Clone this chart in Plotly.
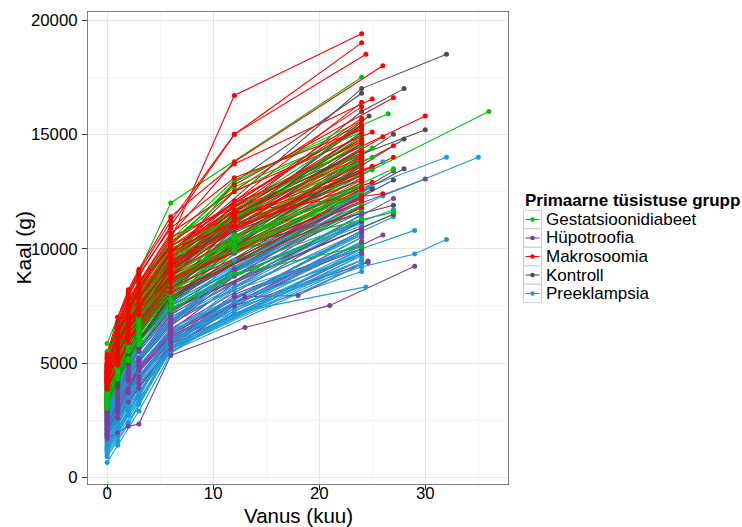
import plotly.graph_objects as go

# ---------------- data (weights in grams; None = visit missed) ----------------
STD_AGES = [0, 1, 2, 3, 6, 12]   # last visit age varies per child

GROUPS = ["Gestatsioonidiabeet", "Hüpotroofia", "Makrosoomia", "Kontroll", "Preeklampsia"]
COLORS = ["#00C400", "#7B3F9E", "#FF0000", "#4D4D4D", "#1C9BD6"]

GD_W = [
    [5850, 7000, None, 9000, 12000, None, 17500],
    [5500, 6600, 7700, 8500, 10400, 13000, 15900],
    [4200, None, 6500, 7300, 9200, None, 13450],
    [5000, 6200, None, 8100, 10200, 12500, 15200],
    [4800, 6000, 7100, None, 9800, None, 14800],
    [4600, None, 6900, 7700, 9600, None, 15000],
    [4400, 5600, None, 7500, 9400, 11900, 14500],
    [4100, 5300, 6400, None, 9100, None, 14100],
    [3900, None, 6200, 7000, 8900, 11300, 13700],
    [3700, 4900, None, 6800, 8700, None, 13400],
    [3500, 4700, 5800, None, 8500, None, 13000],
    [3300, None, 5600, 6400, 8300, 10500, 12700],
    [3600, 4800, None, 6700, 8600, None, 12900],
    [4000, 5200, 6300, None, 8900, 11100, 13200],
    [4300, None, 6600, 7400, 9300, None, 14300],
    [3800, 5000, None, 6900, 8800, None, 13900],
    [3400, 4500, 5500, 6300, 8000, 10200, 12200],
    [3100, None, 5200, 6000, 7700, None, 11700],
    [4500, 5800, None, 7800, 9900, None, 15300],
    [4700, 6000, 7200, None, 10100, 12900, 15600],
    [3900, None, 6000, 6800, 8500, None, 12500],
    [3550, 4650, None, 6500, 8200, None, 11900],
    [4150, 5350, 6450, None, 9200, 11700, 14000],
    [3750, None, 5950, 6750, 8600, None, 12600],
    [3250, 4300, None, 6100, 7800, 9900, 11600],
    [4650, 5900, 7050, None, 9700, None, 14600],
    [3950, None, 6250, 7050, 8900, None, 13600],
    [3450, 4550, None, 6400, 8100, 10100, 12000],
    [4350, 5650, 6800, None, 9500, None, 14700],
    [3850, None, 6100, 6900, 8700, None, 13300],
    [3650, 4750, None, 6600, 8400, 10600, 12400],
    [4250, 5500, 6600, None, 9300, None, 13800],
    [3000, None, 5100, 5900, 7500, None, 11300],
    [5200, 6500, None, 8400, 10300, 12700, 15100],
    [4050, 5250, 6350, None, 9000, None, 13500],
    [3200, None, 5100, 5800, 7300, 8900, 10100],
    [3350, 4400, None, 6200, 8200, None, 12800],
    [4450, 5700, 6900, None, 9700, None, 14900],
    [3700, None, 5700, 6500, 8300, 10400, 12300],
    [4900, 6100, None, 8000, 10000, None, 14400],
]
GD_LAST = [24, 26.5, 25, 24, 24, 24, 24, 24, 24, 24, 24, 24, 24, 24, 24, 24, 24, 24,
           24, 24, 24, 24, 25, 24, 27, 24, 24, 24, 24, 24, 24, 24, 24, 24, 27, 24,
           24, 24, 24, 25]

HP_W = [
    [3000, 4100, None, 5900, 7700, None, 13400],
    [2900, None, 4900, 5700, 7500, 9800, 12000],
    [2800, 3800, None, 5500, 7200, None, 12500],
    [2700, 3700, 4600, None, 7000, None, 12200],
    [2600, None, 4500, 5200, 6800, 9100, 11800],
    [2500, 3500, None, 5100, 6700, None, 11500],
    [2400, 3400, 4300, None, 6500, None, 11200],
    [2300, None, 4200, 4900, 6400, 8500, 10900],
    [2200, 3100, None, 4700, 6200, None, 10600],
    [2100, 3000, 3900, None, 6100, None, 10300],
    [2000, None, 3700, 4400, 5900, 7900, 10000],
    [1900, 2800, None, 4300, 5800, None, 9800],
    [2650, 3650, 4550, None, 6900, None, 11900],
    [2450, None, 4350, 5050, 6600, 8800, 11300],
    [2350, 3300, None, 4850, 6350, None, 10700],
    [2750, 3750, 4700, None, 7100, None, 12100],
    [2550, None, 4450, 5150, 6750, 9000, 11600],
    [2250, 3200, None, 4750, 6250, None, 10800],
    [2050, 2950, 3800, None, 6000, 8000, 10200],
    [1800, 2600, None, 4100, 5600, 7500, 9400],
    [2850, None, 4850, 5600, 7300, None, 12300],
    [2150, 3050, None, 4650, 6150, None, 10500],
]
HP_LAST = [27, 24, 24, 27, 24, 24, 24, 24, 26, 24, 24, 24, 24, 24, 24, 24, 24, 24, 24, 24.6, 24, 24]

# Hüpotroofia children with an irregular visit schedule
HP_SPECIAL_AGES = [
    [0, 1, 2, 3, 6, 13, 21, 29],
    [0, 1, 2, 3, 6, 13, 18, 24.6],
]
HP_SPECIAL_W = [
    [1700, 1950, 2230, 2330, 5330, 6550, 7520, 9230],
    [1900, 2600, 3300, 3900, 5800, 7900, 7950, 9460],
]

MK_W = [
    [4450, 5900, 7300, 8200, 10400, 16700, 19400],
    [5200, 6800, 8100, 9000, 11200, 15000, 19000],
    [4800, None, 7900, 8800, 11000, 15000, 18500],
    [4600, 6100, None, 8500, 10600, 13800, 18000],
    [5400, 7000, 8200, 9100, 11400, 13700, 16550],
    [4300, 5600, None, 7800, 9900, None, 16400],
    [4700, None, 7400, 8300, 10200, 12800, 16600],
    [4900, 6300, 7600, None, 10500, None, 15800],
    [4100, 5400, None, 7400, 9300, None, 14900],
    [4500, None, 7000, 7900, 9800, 12500, 15100],
    [4200, 5500, 6700, None, 9400, None, 14500],
    [4400, 5700, None, 7600, 9500, None, 14000],
    [4650, None, 7100, 8000, 9700, 11600, 12400],
    [4000, 5200, 6300, None, 8900, None, 13500],
    [5000, 6500, None, 8600, 10100, None, 14800],
    [4350, None, 6500, 7300, 9000, 11200, 13900],
    [4550, 5800, 6900, None, 9300, None, 14200],
    [4250, 5300, None, 7200, 8800, None, 13100],
    [4750, None, 7100, 7900, 9600, 12100, 15300],
    [4150, 5250, 6200, None, 8600, None, 12700],
    [4850, 6200, None, 8100, 9900, None, 15600],
    [4400, None, 6600, 7400, 9100, 11400, 13600],
    [5100, 6600, 7800, None, 10700, None, 16200],
    [4300, 5400, None, 7100, 8700, None, 12900],
    [4600, None, 7000, 7800, 9400, 11700, 14100],
    [4050, 5100, 6100, None, 8500, None, 12600],
    [4700, 6100, None, 8000, 9800, None, 14600],
    [4500, None, 6800, 7600, 9200, 11300, 13300],
    [4200, 5400, 6500, None, 8900, None, 13800],
    [4950, 6300, None, 8300, 10300, None, 15400],
    [4350, None, 6700, 7500, 9000, 11000, 12900],
    [4800, 6150, 7250, None, 9700, None, 14300],
    [4250, 5350, None, 7150, 8700, None, 12200],
    [4550, None, 7050, 7850, 9500, 11900, 14700],
    [4100, 5300, 6300, None, 8600, None, 12300],
    [4650, 6050, None, 8000, 9900, None, 15000],
    [5300, None, 8000, 8900, 10900, 13100, 15200],
    [4400, 5750, 6900, None, 9300, None, 13700],
    [4900, 6400, None, 8500, 10000, None, 13200],
    [4300, None, 6500, 7300, 8800, 10900, 13000],
    [3950, 5000, 6000, None, 8300, None, 12100],
    [4750, 6250, None, 8200, 10100, None, 15700],
    [4450, None, 6800, 7600, 9200, 11500, 14000],
    [3850, 4900, 5900, None, 8100, None, 11800],
]
MK_LAST = [24, 24, 24.4, 26, 25, 24, 27, 30, 26, 25, 27, 27, 26, 24, 24, 24, 24, 24, 24, 24,
           24, 25, 24, 24, 24, 24, 24, 24, 24, 24, 25, 24, 24, 24, 24, 24, 24, 24, 24, 24,
           24, 24, 24, 24]

KO_W = [
    [4200, 5500, None, 7600, 9800, None, 17000],
    [4000, None, 6500, 7400, 9500, 12900, 16800],
    [3900, 5200, 6300, None, 9300, None, 16000],
    [3800, 5000, None, 7000, 9000, None, 15800],
    [3700, None, 6000, 6800, 8800, 12000, 15200],
    [3600, 4800, 5900, None, 8600, None, 15000],
    [3500, 4700, None, 6500, 8400, None, 14800],
    [3400, None, 5600, 6400, 8200, 11100, 14400],
    [3300, 4400, 5400, None, 8000, None, 13500],
    [3200, 4300, None, 6100, 7900, None, 13000],
    [3100, None, 5200, 6000, 7700, 10300, 12700],
    [3000, 4100, 5000, None, 7500, None, 12300],
    [3550, 4700, None, 6600, 8400, None, 13900],
    [3650, None, 5950, 6750, 8700, 11600, 14200],
    [3450, 4550, 5600, None, 8300, None, 13700],
    [3750, 4950, None, 6900, 8900, None, 14600],
    [3350, None, 5450, 6250, 8000, 10700, 13200],
    [3250, 4350, 5350, None, 7800, None, 12600],
    [3850, 5050, None, 7000, 9100, None, 15100],
    [3150, None, 5150, 5900, 7600, 10100, 11900],
    [3050, 4100, 5050, None, 7400, None, 11500],
    [3600, 4750, None, 6600, 8500, None, 14000],
    [3400, None, 5500, 6300, 8100, 10900, 13400],
    [3950, 5150, 6300, None, 9200, None, 15400],
    [2950, 3950, None, 5700, 7300, None, 11200],
    [3700, None, 5950, 6750, 8700, 11500, 14300],
    [3300, 4400, 5400, None, 7900, None, 12900],
    [3500, 4650, None, 6500, 8300, None, 13600],
    [4100, None, 6400, 7300, 9400, None, 14900],
    [3150, 4250, 5250, None, 7900, None, 12400],
]
KO_LAST = [24, 24, 24, 24.7, 30, 27, 28, 24, 28, 27, 24, 24, 24, 24, 24, 24, 24, 25, 24, 27,
           27, 24, 24, 24, 24, 24, 24, 24, 24, 24]

PE_W = [
    [3500, 4600, None, 6400, 8200, None, 13800],
    [3400, None, 5500, 6300, 8100, 10800, 12600],
    [3300, 4400, 5400, None, 7900, None, 12300],
    [3200, 4300, None, 6100, 7800, None, 12800],
    [3100, None, 5200, 6000, 7700, 10100, 12500],
    [3000, 4000, 5000, None, 7500, None, 12200],
    [2900, 3900, None, 5700, 7300, None, 11900],
    [2800, None, 4800, 5500, 7100, 9500, 11600],
    [2700, 3700, 4600, None, 6900, None, 11400],
    [2600, 3600, None, 5200, 6800, None, 11200],
    [2500, None, 4400, 5100, 6700, 8900, 11000],
    [2400, 3400, 4300, None, 6500, None, 10600],
    [2300, 3300, None, 4800, 6300, None, 10300],
    [2200, None, 3900, 4600, 6100, 8200, 10000],
    [2100, 3000, 3800, None, 6000, None, 9800],
    [2000, 2900, None, 4400, 5900, None, 9500],
    [1900, None, 3500, 4200, 5700, 7400, 9200],
    [1800, 2600, 3400, 4100, 5600, 7200, 8330],
    [1700, 2500, None, 4000, 5500, 7100, 9000],
    [1600, None, 3200, 3900, 5600, None, 9400],
    [1500, 2300, 3100, None, 5700, None, 9700],
    [1400, 2200, None, 3700, 5800, 7900, 10100],
    [1300, None, 2900, 3600, 6000, None, 10500],
    [1200, 2000, 2800, None, 5900, None, 10300],
    [1100, 1800, None, 3300, 5800, 7900, 10200],
    [1000, None, 2400, 3200, 5700, None, 9900],
    [900, 1600, 2300, None, 5600, None, 9700],
    [650, 1400, None, 2900, 5400, 7300, 9500],
    [2950, None, 4950, 5750, 7400, None, 12100],
    [2750, 3750, 4700, None, 7000, None, 11500],
    [2550, 3550, None, 5150, 6750, 9000, 11100],
    [2350, None, 4200, 4900, 6400, None, 10700],
    [2150, 3050, 3850, None, 6050, None, 10000],
    [1950, 2800, None, 4300, 5800, 7700, 9700],
    [1750, None, 3350, 4050, 5650, None, 9500],
    [1550, 2350, 3150, None, 5500, None, 9300],
    [1350, 2150, None, 3650, 5600, 7600, 9800],
    [1150, None, 2700, 3400, 5500, None, 10000],
    [3050, 4050, 5050, None, 7600, None, 12700],
    [2650, 3650, None, 5250, 6850, 9200, 11700],
    [2850, None, 4900, 5650, 7500, None, 12400],
    [2450, 3450, 4350, None, 6900, None, 11300],
    [1850, 2700, None, 4200, 6200, 8300, 10600],
    [1250, None, 2700, 3450, 6100, None, 10800],
]
PE_LAST = [26, 24, 26, 24, 24, 24, 24, 24, 27, 24, 24, 24, 24, 24, 24, 24, 24, 24.4, 24, 24,
           24, 24, 24, 24, 24, 24, 24, 24, 24, 24, 24, 24, 24, 24, 24, 24, 24, 24, 25, 27,
           24, 24, 24, 24]

# Later follow-up visits: (group index, child index, age, weight)
EXTRA_GROUP = [0, 1, 3, 3, 4, 4, 4, 4, 4]
EXTRA_CHILD = [2, 1, 0, 2, 1, 2, 13, 16, 16]
EXTRA_AGE = [36, 30, 32, 28, 32, 35, 29, 29, 32]
EXTRA_W = [16000, 13050, 18500, 17000, 14000, 14000, 10800, 9770, 10400]

# ---------------- build per-child series ----------------
weights_by_group = [GD_W, HP_W, MK_W, KO_W, PE_W]
last_by_group = [GD_LAST, HP_LAST, MK_LAST, KO_LAST, PE_LAST]

children = [[] for _ in GROUPS]
for g, (wrows, lasts) in enumerate(zip(weights_by_group, last_by_group)):
    for w, la in zip(wrows, lasts):
        ages = STD_AGES + [la]
        pts = [(a, v) for a, v in zip(ages, w) if v is not None]
        children[g].append([[p[0] for p in pts], [p[1] for p in pts]])
for ag, ww in zip(HP_SPECIAL_AGES, HP_SPECIAL_W):
    children[1].append([list(ag), list(ww)])
for g, c, a, w in zip(EXTRA_GROUP, EXTRA_CHILD, EXTRA_AGE, EXTRA_W):
    children[g][c][0].append(a)
    children[g][c][1].append(w)

fig = go.Figure()

# lines, interleaved between groups (as drawn by child id)
maxn = max(len(c) for c in children)
order = [4, 1, 3, 0, 2]
for i in range(maxn):
    for g in order:
        if i < len(children[g]):
            xs, ys = children[g][i]
            fig.add_trace(go.Scatter(
                x=xs, y=ys, mode="lines", name=GROUPS[g],
                line=dict(color=COLORS[g], width=1.1),
                showlegend=False, hoverinfo="skip"))

# points on top of all lines
for g in order:
    xs, ys = [], []
    for a, w in children[g]:
        xs += a
        ys += w
    fig.add_trace(go.Scatter(
        x=xs, y=ys, mode="markers", name=GROUPS[g],
        marker=dict(color=COLORS[g], size=5, line=dict(width=0)),
        showlegend=False, hoverinfo="skip"))

FONT = "Liberation Sans"

# ---------------- legend and axis titles (ggplot style, paper coords) ----------------
PLOT_L, PLOT_R, PLOT_T, PLOT_B = 88, 508, 12, 484


def px_x(px):
    return (px - PLOT_L) / (PLOT_R - PLOT_L)


def px_y(py):
    return (PLOT_B - py) / (PLOT_B - PLOT_T)


shapes = []
annotations = [
    dict(text="<b>Primaarne tüsistuse grupp</b>", xref="paper", yref="paper",
         x=px_x(523), y=px_y(200), xanchor="left", yanchor="middle", showarrow=False,
         font=dict(size=17, family=FONT, color="black")),
    dict(text="Vanus (kuu)", xref="paper", yref="paper",
         x=px_x(298), y=px_y(515.5), xanchor="center", yanchor="middle", showarrow=False,
         font=dict(size=20.5, family=FONT, color="black")),
    dict(text="Kaal (g)", xref="paper", yref="paper", textangle=-90,
         x=px_x(22.5), y=px_y(248), xanchor="center", yanchor="middle", showarrow=False,
         font=dict(size=21, family=FONT, color="black")),
]
for i, name in enumerate(GROUPS):
    cy = 219.5 + 18.5 * i
    shapes.append(dict(type="rect", xref="paper", yref="paper",
                       x0=px_x(523.5), x1=px_x(541.5), y0=px_y(cy + 9.2), y1=px_y(cy - 9.2),
                       line=dict(color="#CCCCCC", width=1), fillcolor="white", layer="above"))
    shapes.append(dict(type="line", xref="paper", yref="paper",
                       x0=px_x(525.5), x1=px_x(539.5), y0=px_y(cy), y1=px_y(cy),
                       line=dict(color=COLORS[i], width=1.1), layer="above"))
    shapes.append(dict(type="circle", xref="paper", yref="paper",
                       x0=px_x(530.2), x1=px_x(534.8), y0=px_y(cy + 2.3), y1=px_y(cy - 2.3),
                       line=dict(width=0), fillcolor=COLORS[i], layer="above"))
    annotations.append(dict(
        text=name, xref="paper", yref="paper",
        x=px_x(543.5), y=px_y(cy), xanchor="left", yanchor="middle", showarrow=False,
        font=dict(size=17, family=FONT, color="black")))

axis_common = dict(
    showline=True, mirror=True, linecolor="#7F7F7F", linewidth=1,
    showgrid=True, gridcolor="#E6E6E6", gridwidth=1,
    zeroline=False, automargin=False,
    ticks="outside", ticklen=5, tickcolor="#333333", tickwidth=1,
    tickfont=dict(size=16.8, color="#000000", family=FONT),
)

fig.update_layout(
    width=742, height=527,
    margin=dict(l=PLOT_L, r=742 - PLOT_R, t=PLOT_T, b=527 - PLOT_B),
    paper_bgcolor="white", plot_bgcolor="white",
    font=dict(family=FONT, color="black"),
    showlegend=False,
    xaxis=dict(
        range=[-1.8, 37.8], tickvals=[0, 10, 20, 30], tickformat="d",
        minor=dict(tickvals=[5, 15, 25, 35], showgrid=True, gridcolor="#F4F4F4", ticks=""),
        ticklabelstandoff=-11,
        **axis_common),
    yaxis=dict(
        range=[-290, 20350], tickvals=[0, 5000, 10000, 15000, 20000], tickformat="d",
        minor=dict(tickvals=[2500, 7500, 12500, 17500], showgrid=True, gridcolor="#F4F4F4", ticks=""),
        ticklabelstandoff=1,
        **axis_common),
    shapes=shapes,
    annotations=annotations,
)

fig.write_html("out.html")
